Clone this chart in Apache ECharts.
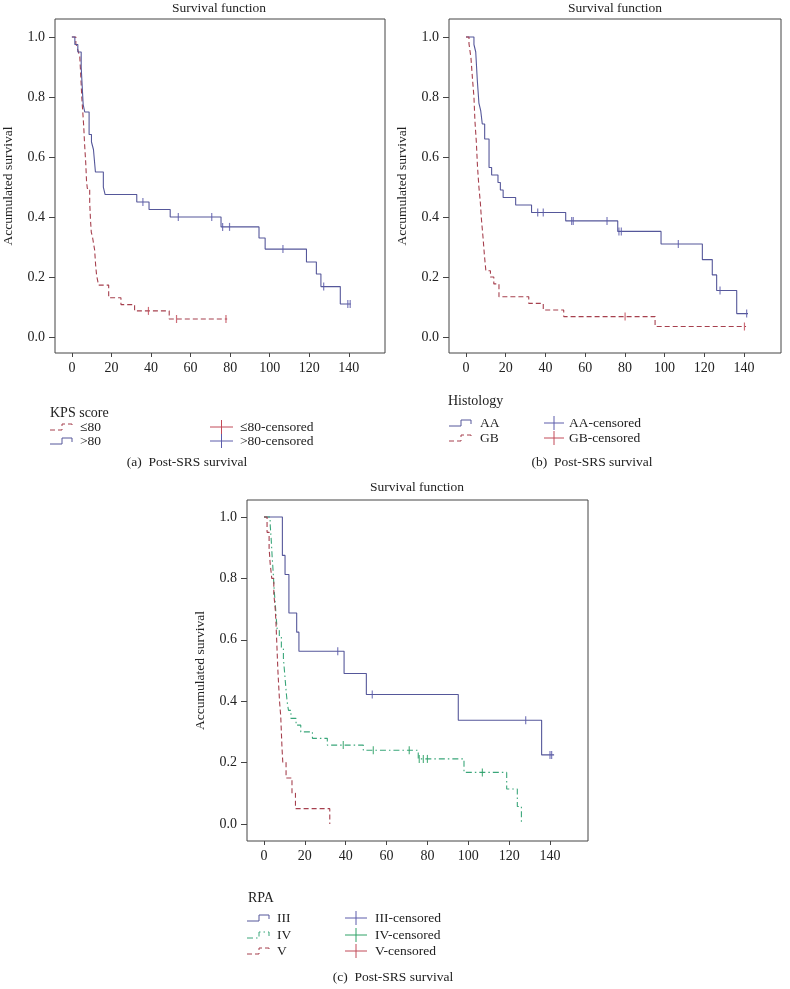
<!DOCTYPE html>
<html><head><meta charset="utf-8">
<script src="https://cdn.jsdelivr.net/npm/echarts@6/dist/echarts.min.js"></script>
<style>html,body{margin:0;padding:0;background:#fff}#c{width:790px;height:989px}</style>
</head><body><div id="c"></div>
<script>
// ---------------- DATA ----------------
const xTickValues = [0, 20, 40, 60, 80, 100, 120, 140];
const yTickValues = [0, 0.2, 0.4, 0.6, 0.8, 1.0];

// (a) KPS score
const kpsLowTime = [0,2,3,4,4.5,5,5.5,6,6.4,7,7.4,7.8,9,9.4,9.8,10.5,11.5,12,12.5,13.5,18.6,24.8,31.7,49.2,78.5];
const kpsLowSurv = [1,0.978,0.957,0.934,0.87,0.80,0.75,0.70,0.645,0.58,0.52,0.495,0.45,0.39,0.35,0.33,0.29,0.24,0.205,0.173,0.131,0.108,0.087,0.060,0.060];
const kpsLowCensTime = [38.7,52.9,77.9];
const kpsLowCensSurv = [0.087,0.060,0.060];
const kpsHighTime = [0,1.5,3.0,4.7,5.7,6.5,8.7,9.9,10.9,11.9,15.9,16.8,32.8,39.0,49.7,75.4,94.6,97.7,118.6,123.6,125.9,135.7,141];
const kpsHighSurv = [1,0.975,0.95,0.90,0.775,0.75,0.675,0.65,0.625,0.55,0.50,0.475,0.45,0.425,0.40,0.367,0.33,0.293,0.25,0.21,0.168,0.11,0.11];
const kpsHighCensTime = [35.9,53.8,70.7,76.2,79.7,106.7,127.3,139.5,140.7];
const kpsHighCensSurv = [0.45,0.40,0.40,0.367,0.367,0.293,0.168,0.11,0.11];

// (b) Histology
const aaTime = [0,4.0,4.9,5.7,6.5,7.4,8.2,9.4,11.6,12.9,16.1,17.3,18.7,25.0,33.0,50.2,76.4,98.2,119.0,124.0,126.2,136.3,142];
const aaSurv = [1,0.975,0.95,0.855,0.78,0.755,0.71,0.66,0.565,0.54,0.515,0.49,0.465,0.44,0.415,0.387,0.352,0.31,0.258,0.207,0.155,0.078,0.078];
const aaCensTime = [36.1,38.9,53.2,54.0,71.0,77.0,78.2,106.9,127.9,141.3];
const aaCensSurv = [0.415,0.415,0.387,0.387,0.387,0.352,0.352,0.31,0.155,0.078];
const gbTime = [0,1.5,2.5,3.3,4.0,4.5,5.2,5.8,6.5,7.2,7.8,8.6,9.3,10,12.3,14,16.6,31.6,38.9,49.2,95.2,141];
const gbSurv = [1,0.978,0.93,0.857,0.80,0.72,0.65,0.567,0.50,0.45,0.39,0.33,0.27,0.221,0.2,0.177,0.134,0.112,0.09,0.068,0.035,0.035];
const gbCensTime = [80.1,140.2];
const gbCensSurv = [0.068,0.035];

// (c) RPA
const rpa3Time = [0,9.0,10.3,12.2,16.0,17.1,39.2,50.1,95.1,135.9,142];
const rpa3Surv = [1,0.875,0.8125,0.6875,0.625,0.5625,0.49,0.422,0.338,0.225,0.225];
const rpa3CensTime = [36.1,53.0,128.1,140.0,140.8];
const rpa3CensSurv = [0.5625,0.422,0.338,0.225,0.225];
const rpa4Time = [0,3,3.5,4,4.5,5,5.5,6,6.5,7.5,8.5,9.5,10,10.5,11,11.5,12,13.2,15.7,18,23.7,31,48.6,75.5,97.9,118.8,124.0,126.0];
const rpa4Surv = [1,0.978,0.93,0.87,0.82,0.76,0.72,0.67,0.63,0.61,0.57,0.54,0.50,0.46,0.42,0.39,0.37,0.344,0.322,0.30,0.279,0.257,0.24,0.212,0.168,0.114,0.057,0];
const rpa4CensTime = [38.8,53.5,71.1,76.0,78.0,80.0,106.9];
const rpa4CensSurv = [0.257,0.24,0.24,0.212,0.212,0.212,0.168];
const rpa5Time = [0,1.5,2.5,3,3.8,4.8,5.5,5.9,6.2,6.5,6.8,7.2,7.6,8.2,8.5,8.8,9.2,10.8,13.7,15.4,32.2];
const rpa5Surv = [1,0.95,0.9,0.85,0.80,0.75,0.70,0.65,0.60,0.55,0.5,0.45,0.40,0.35,0.30,0.25,0.20,0.15,0.10,0.05,0];

// texts
const panelTitle = 'Survival function';
const yAxisName = 'Accumulated survival';
const captions = ['(a)  Post-SRS survival', '(b)  Post-SRS survival', '(c)  Post-SRS survival'];

// ---------------- STYLE ----------------
const FONT = '"Liberation Serif", "DejaVu Serif", serif';
const BLUE = '#55579a', RED = '#a6404e', GREEN = '#3aa67a';
const BLUE_C = '#5c5cab', RED_C = '#c24a58', GREEN_C = '#2fa266';
const DASH = [5, 3], DASHDOT = [6, 3, 1.5, 3];
const TXT = 13.5;

const zip = (a, b) => a.map((v, i) => [v, b[i]]);

function xAx(gi, min, max) {
  return {type: 'value', gridIndex: gi, min, max,
    axisLine: {show: false, onZero: false},
    axisTick: {show: true, inside: false, length: 4, customValues: xTickValues, lineStyle: {color: '#444'}},
    axisLabel: {customValues: xTickValues, margin: 8, fontFamily: FONT, fontSize: 14, color: '#222'},
    splitLine: {show: false}};
}
function yAx(gi, min, max) {
  return {type: 'value', gridIndex: gi, min, max,
    name: yAxisName, nameLocation: 'middle', nameGap: 40,
    nameTextStyle: {fontFamily: FONT, fontSize: TXT, color: '#222'},
    axisLine: {show: false, onZero: false},
    axisTick: {show: true, inside: false, length: 6, customValues: yTickValues, lineStyle: {color: '#444'}},
    axisLabel: {customValues: yTickValues, margin: 10, fontFamily: FONT, fontSize: 14, color: '#222',
      formatter: v => v.toFixed(1)},
    splitLine: {show: false}};
}
function stepLine(gi, name, t, s, color, dash) {
  return {type: 'line', name, xAxisIndex: gi, yAxisIndex: gi, step: 'end', showSymbol: false, symbol: 'none',
    data: zip(t, s), lineStyle: {color, width: 1.1, type: dash || 'solid'}, silent: true, z: 3};
}
function cens(gi, name, t, s, color) {
  return {type: 'scatter', name, xAxisIndex: gi, yAxisIndex: gi, symbol: 'rect', symbolSize: [1.2, 8],
    data: zip(t, s), itemStyle: {color}, silent: true, z: 4};
}

function txt(x, y, text, align, size) {
  return {type: 'text', x, y, silent: true,
    style: {text, x: 0, y: 0, fill: '#222', font: (size || TXT) + 'px ' + FONT,
      align: align || 'left', verticalAlign: 'middle', textAlign: align || 'left', textVerticalAlign: 'middle'}};
}
function stepIcon(x, y, color, dash) {
  return {type: 'polyline', silent: true,
    shape: {points: [[x, y + 3], [x + 12, y + 3], [x + 12, y - 3], [x + 22, y - 3], [x + 22, y + 1]]},
    style: {stroke: color, lineWidth: 1, fill: null, lineDash: dash || null}};
}
function censIcon(x, y, color, w) {
  w = w || 24;
  return {type: 'group', silent: true, children: [
    {type: 'line', shape: {x1: x, y1: y, x2: x + w, y2: y}, style: {stroke: color, lineWidth: 1}},
    {type: 'line', shape: {x1: x + w / 2, y1: y - 7, x2: x + w / 2, y2: y + 7}, style: {stroke: color, lineWidth: 1}}
  ]};
}

const grids = [
  {left: 53, top: 19, width: 332, height: 334},
  {left: 449, top: 19, width: 332, height: 334},
  {left: 247, top: 500, width: 341, height: 341}
].map(g => Object.assign(g, {show: true, borderColor: '#444', borderWidth: 1, backgroundColor: 'transparent', containLabel: false}));

const graphics = [
  txt(219, 8, panelTitle, 'center'),
  txt(615, 8, panelTitle, 'center'),
  txt(417, 487, panelTitle, 'center'),
  txt(187, 462, captions[0], 'center'),
  txt(592, 462, captions[1], 'center'),
  txt(393, 977, captions[2], 'center'),
  // legend (a)
  txt(50, 413, 'KPS score', 'left', 14),
  stepIcon(50, 427, RED, DASH), txt(80, 427, '≤80'),
  stepIcon(50, 441, BLUE), txt(80, 441, '>80'),
  censIcon(210, 427, RED_C, 23), txt(240, 427, '≤80-censored'),
  censIcon(210, 441, BLUE_C, 23), txt(240, 441, '>80-censored'),
  // legend (b)
  txt(448, 401, 'Histology', 'left', 14),
  stepIcon(449, 423, BLUE), txt(480, 423, 'AA'),
  stepIcon(449, 438, RED, DASH), txt(480, 438, 'GB'),
  censIcon(544, 423, BLUE_C, 20), txt(569, 423, 'AA-censored'),
  censIcon(544, 438, RED_C, 20), txt(569, 438, 'GB-censored'),
  // legend (c)
  txt(248, 898, 'RPA', 'left', 14),
  stepIcon(247, 918, BLUE), txt(277, 918, 'III'),
  stepIcon(247, 935, GREEN, DASHDOT), txt(277, 935, 'IV'),
  stepIcon(247, 951, RED, DASH), txt(277, 951, 'V'),
  censIcon(345, 918, BLUE_C, 22), txt(375, 918, 'III-censored'),
  censIcon(345, 935, GREEN_C, 22), txt(375, 935, 'IV-censored'),
  censIcon(345, 951, RED_C, 22), txt(375, 951, 'V-censored')
];

const option = {
  animation: false,
  backgroundColor: '#fff',
  grid: grids,
  xAxis: [xAx(0, -8.54, 158.3), xAx(1, -8.56, 158.6), xAx(2, -8.32, 158.6)],
  yAxis: [yAx(0, -0.0533, 1.06), yAx(1, -0.0533, 1.06), yAx(2, -0.0554, 1.0554)],
  graphic: graphics,
  series: [
    stepLine(0, '≤80', kpsLowTime, kpsLowSurv, RED, DASH),
    stepLine(0, '>80', kpsHighTime, kpsHighSurv, BLUE),
    cens(0, '≤80-censored', kpsLowCensTime, kpsLowCensSurv, RED_C),
    cens(0, '>80-censored', kpsHighCensTime, kpsHighCensSurv, BLUE_C),
    stepLine(1, 'AA', aaTime, aaSurv, BLUE),
    stepLine(1, 'GB', gbTime, gbSurv, RED, DASH),
    cens(1, 'AA-censored', aaCensTime, aaCensSurv, BLUE_C),
    cens(1, 'GB-censored', gbCensTime, gbCensSurv, RED_C),
    stepLine(2, 'III', rpa3Time, rpa3Surv, BLUE),
    stepLine(2, 'IV', rpa4Time, rpa4Surv, GREEN, DASHDOT),
    stepLine(2, 'V', rpa5Time, rpa5Surv, RED, DASH),
    cens(2, 'III-censored', rpa3CensTime, rpa3CensSurv, BLUE_C),
    cens(2, 'IV-censored', rpa4CensTime, rpa4CensSurv, GREEN_C)
  ]
};
const chart = echarts.init(document.getElementById('c'), null, {renderer: 'canvas'});
chart.setOption(option);
</script></body></html>
